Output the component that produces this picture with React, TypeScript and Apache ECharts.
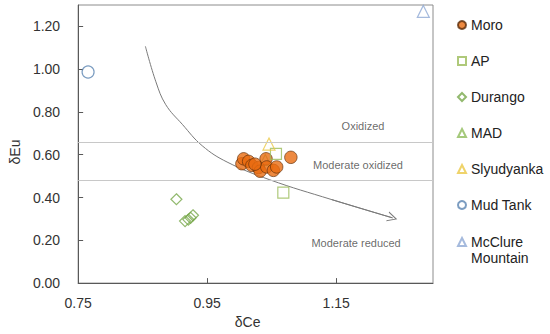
import React, { useEffect, useRef } from "react";
import * as echarts from "echarts";

const xTickLabels = [0.75, 0.95, 1.15];
const yTickLabels = [0, 0.2, 0.4, 0.6, 0.8, 1.0, 1.2];

const moro: [number, number][] = [
  [1.0038, 0.558], [1.0065, 0.581], [1.0142, 0.569], [1.0192, 0.55],
  [1.0295, 0.54], [1.032, 0.523], [1.0412, 0.581], [1.0423, 0.543],
  [1.0526, 0.527], [1.0577, 0.543], [1.0797, 0.588], [1.024, 0.556],
];
const ap: [number, number][] = [[1.0566, 0.604], [1.068, 0.423]];
const durango: [number, number][] = [
  [0.9023, 0.392], [0.9157, 0.29], [0.9208, 0.297], [0.9243, 0.305], [0.928, 0.317],
];
const mad: [number, number][] = [[1.04, 0.575]];
const slyudyanka: [number, number][] = [[1.0458, 0.65]];
const mudTank: [number, number][] = [[0.7654, 0.987]];
const mcclure: [number, number][] = [[1.285, 1.27]];

const trendCurve: [number, number][] = [
  [0.8542, 1.107], [0.8705, 0.941], [0.8858, 0.834], [0.9115, 0.742],
  [0.9423, 0.642], [0.9808, 0.566], [1.047, 0.483], [1.1423, 0.391], [1.2372, 0.305],
];
const zoneLines = [0.655, 0.48];
const zoneLabels: { x: number; y: number; text: string }[] = [
  { x: 1.1915, y: 0.736, text: "Oxidized" },
  { x: 1.1838, y: 0.552, text: "Moderate oxidized" },
  { x: 1.1808, y: 0.189, text: "Moderate reduced" },
];
const legendNames = ["Moro", "AP", "Durango", "MAD", "Slyudyanka", "Mud Tank"];
const legendNamesTwoLine = ["McClure Mountain"];

const chevron = "path://M0,10 L5,0 L10,10 L8.9,10 L5,2.2 L1.1,10 Z";

export default function App() {
  const ref = useRef<HTMLDivElement>(null);
  useEffect(() => {
    if (!ref.current) return;
    const chart = echarts.init(ref.current, null, { renderer: "svg" });
    const hollow = (c: string) => ({ color: "rgba(0,0,0,0)", borderColor: c, borderWidth: 1.2 });
    const n = trendCurve.length;
    const legendBase = {
      orient: "vertical",
      left: 457,
      padding: 0,
      itemWidth: 8,
      itemHeight: 8,
      itemGap: 20,
      textStyle: { fontSize: 14, color: "#222", lineHeight: 16 },
    };
    chart.setOption({
      animation: false,
      textStyle: { fontFamily: "Liberation Sans, Arial, sans-serif" },
      grid: { left: 75, top: 5, right: 117, bottom: 46, show: true, borderColor: "#8c8c8c", borderWidth: 1 },
      legend: [
        { ...legendBase, top: 17, data: legendNames },
        {
          ...legendBase,
          top: 218,
          data: legendNamesTwoLine,
          formatter: () => "{a|McClure}\n{a|Mountain}",
          textStyle: {
            fontSize: 14,
            color: "#222",
            lineHeight: 16,
            padding: [16, 0, 0, 0],
            rich: { a: { fontSize: 14, lineHeight: 16, color: "#222" } },
          },
        },
      ],
      xAxis: {
        type: "value",
        min: 0.75,
        max: 1.3,
        name: "δCe",
        nameLocation: "middle",
        nameGap: 27,
        nameTextStyle: { fontSize: 14, color: "#333", padding: [0, 16, 0, 0] },
        axisLine: { show: true, lineStyle: { color: "#595959" } },
        axisTick: { show: true, inside: true, length: 5, customValues: [0.95, 1.15], lineStyle: { color: "#595959" } },
        axisLabel: { fontSize: 14, color: "#333", margin: 13, customValues: xTickLabels, formatter: (v: number) => v.toFixed(2) },
        splitLine: { show: false },
      },
      yAxis: {
        type: "value",
        min: 0,
        max: 1.3,
        name: "δEu",
        nameLocation: "middle",
        nameGap: 52,
        nameRotate: 90,
        nameTextStyle: { fontSize: 14, color: "#333", padding: [0, 16, 0, 0] },
        axisLine: { show: true, lineStyle: { color: "#595959" } },
        axisTick: { show: true, inside: true, length: 5, customValues: yTickLabels.slice(1), lineStyle: { color: "#595959" } },
        axisLabel: { fontSize: 14, color: "#333", margin: 18, customValues: yTickLabels, formatter: (v: number) => v.toFixed(2) },
        splitLine: { show: false },
      },
      series: [
        {
          name: "zones",
          type: "scatter",
          data: zoneLabels.map((z) => [z.x, z.y, z.text]),
          symbolSize: 0,
          silent: true,
          z: 1,
          label: { show: true, position: "inside", formatter: (p: any) => p.data[2], fontSize: 11, color: "#444" },
          markLine: {
            silent: true,
            symbol: "none",
            label: { show: false },
            lineStyle: { color: "#c8c8c8", width: 1, type: "solid" },
            data: zoneLines.map((v) => ({ yAxis: v })),
          },
        },
        {
          name: "trend",
          type: "line",
          data: trendCurve,
          smooth: 0.4,
          showSymbol: false,
          silent: true,
          z: 1,
          lineStyle: { color: "#7a7a7a", width: 1 },
          markLine: {
            silent: true,
            symbol: ["none", chevron],
            symbolSize: [10, 10],
            label: { show: false },
            lineStyle: { color: "#7a7a7a", width: 1, type: "solid" },
            data: [[{ coord: trendCurve[n - 2] }, { coord: trendCurve[n - 1] }]],
          },
        },
        { name: "MAD", type: "scatter", data: mad, symbol: "triangle", symbolSize: 11, itemStyle: hollow("#8fbc5a"), z: 2 },
        {
          name: "Moro",
          type: "scatter",
          data: moro,
          symbol: "circle",
          symbolSize: 12.5,
          z: 3,
          itemStyle: { color: "#E86C10", borderColor: "#5a2a08", borderWidth: 0.8 },
        },
        { name: "AP", type: "scatter", data: ap, symbol: "rect", symbolSize: 11, itemStyle: hollow("#9BBB59"), z: 4 },
        { name: "Durango", type: "scatter", data: durango, symbol: "diamond", symbolSize: 11, itemStyle: hollow("#77A84A"), z: 4 },
        { name: "Slyudyanka", type: "scatter", data: slyudyanka, symbol: "triangle", symbolSize: 12, itemStyle: hollow("#EBC845"), z: 4 },
        { name: "Mud Tank", type: "scatter", data: mudTank, symbol: "circle", symbolSize: 12, itemStyle: hollow("#5B84B1"), z: 4 },
        { name: "McClure Mountain", type: "scatter", data: mcclure, symbol: "triangle", symbolSize: 12, itemStyle: hollow("#8EA9D4"), z: 4 },
      ],
    });
    return () => chart.dispose();
  }, []);
  return <div ref={ref} style={{ position: "absolute", left: 0, top: 0, width: 550, height: 334 }} />;
}
